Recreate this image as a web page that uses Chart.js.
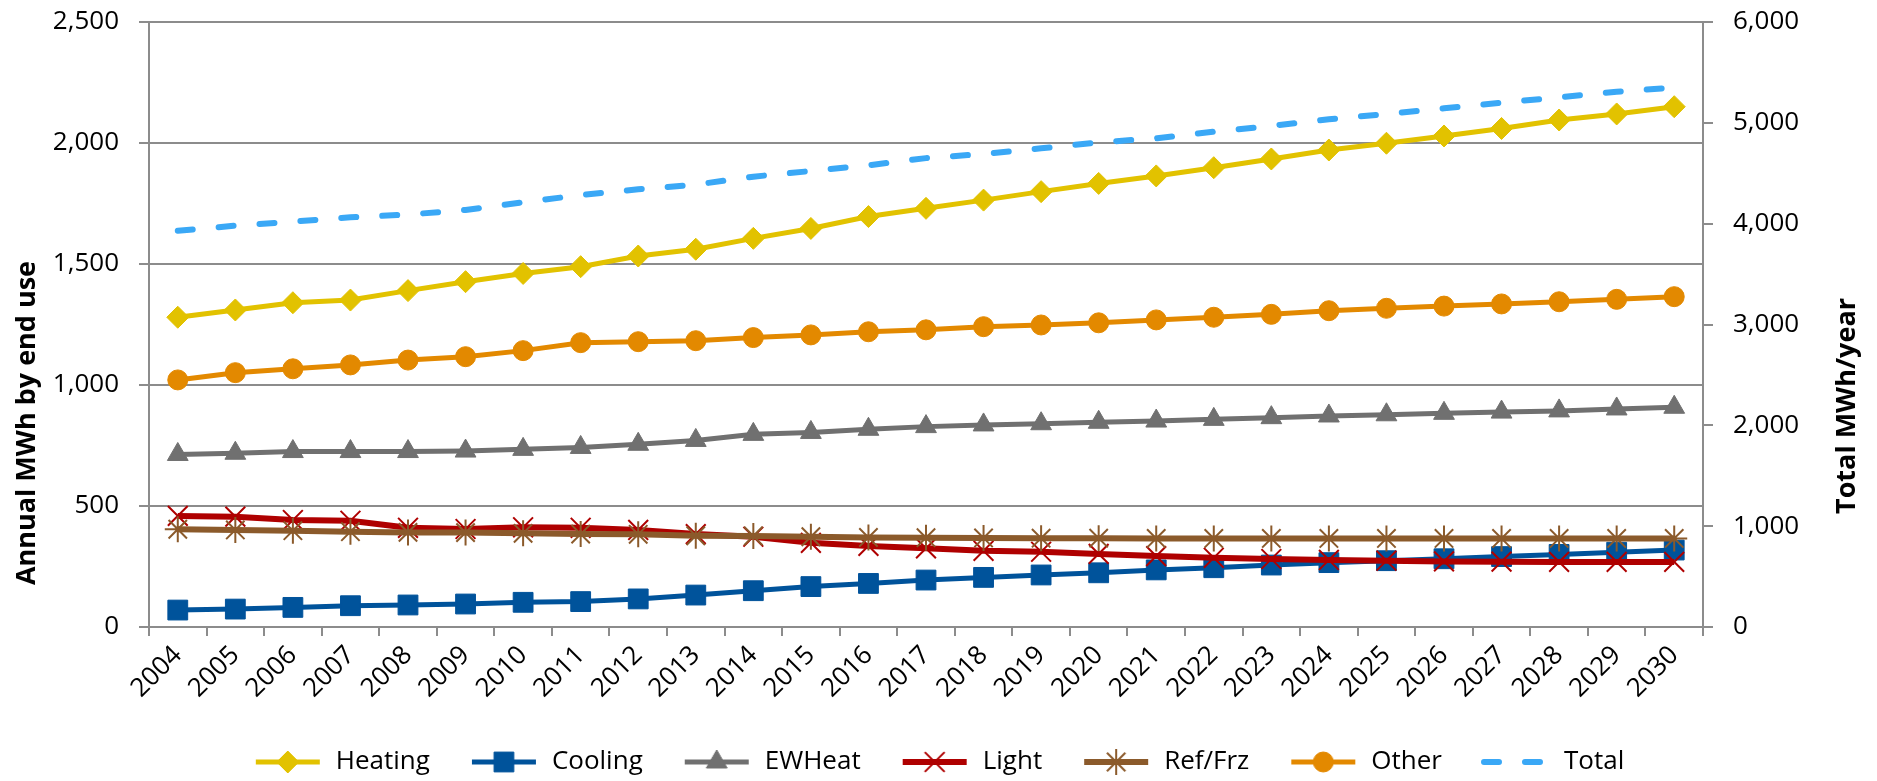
<!DOCTYPE html>
<html>
<head>
<meta charset="utf-8">
<script src="https://cdn.jsdelivr.net/npm/chart.js@4.4.1/dist/chart.umd.min.js"></script>
<style>
  html, body { margin: 0; padding: 0; background: #fff; }
  #wrap { width: 1877px; height: 781px; position: relative; }
</style>
</head>
<body>
<div id="wrap"><canvas id="chart"></canvas></div>
<script>
// data
const years = ['2004', '2005', '2006', '2007', '2008', '2009', '2010', '2011', '2012', '2013', '2014', '2015', '2016', '2017',
  '2018', '2019', '2020', '2021', '2022', '2023', '2024', '2025', '2026', '2027', '2028', '2029', '2030'];
const heating = [1280, 1310, 1340, 1351, 1390, 1427, 1461, 1489, 1533, 1561, 1606, 1647, 1696, 1730,
  1764, 1799, 1833, 1864, 1898, 1934, 1971, 1999, 2029, 2060, 2095, 2120, 2150];
const cooling = [70, 74, 81, 88, 91, 95, 102, 105, 116, 132, 150, 167, 180, 194,
  205, 215, 224, 236, 245, 256, 266, 274, 282, 291, 300, 309, 318];
const ewheat = [713, 718, 725, 725, 725, 727, 734, 742, 755, 771, 796, 804, 817, 828,
  835, 840, 846, 851, 858, 865, 872, 877, 883, 888, 893, 901, 908];
const light = [459, 456, 442, 439, 410, 405, 412, 410, 401, 384, 373, 348, 335, 325,
  315, 311, 302, 293, 286, 281, 277, 274, 271, 270, 269, 269, 269];
const refFrz = [404, 401, 398, 394, 391, 390, 387, 384, 383, 377, 376, 373, 370, 369,
  368, 367, 367, 366, 366, 366, 366, 366, 366, 366, 366, 366, 366];
const other = [1021, 1051, 1067, 1083, 1103, 1117, 1142, 1175, 1179, 1183, 1196, 1207, 1220, 1228,
  1241, 1248, 1257, 1269, 1280, 1292, 1307, 1317, 1326, 1335, 1344, 1354, 1365];
const total = [3930, 3980, 4020, 4063, 4090, 4136, 4212, 4284, 4341, 4387, 4466, 4522, 4579, 4650,
  4691, 4747, 4806, 4846, 4912, 4969, 5035, 5088, 5144, 5200, 5253, 5309, 5349];

const leftTicks = [0, 500, 1000, 1500, 2000, 2500];
const rightTicks = [0, 1000, 2000, 3000, 4000, 5000, 6000];
const leftTitle = 'Annual MWh by end use';
const rightTitle = 'Total MWh/year';

const FONT = '"Open Sans", "Noto Sans", sans-serif';
const AXIS = '#8c8c8c';
const PAD_BOTTOM = -4;

function series(label, data, color, style, radius, extra) {
  return Object.assign({
    label: label,
    data: data,
    borderColor: color,
    backgroundColor: color,
    borderWidth: 5,
    pointStyle: style,
    pointRadius: radius,
    pointBackgroundColor: color,
    pointBorderColor: color,
    pointBorderWidth: 1,
    tension: 0,
    yAxisID: 'y'
  }, extra || {});
}

const datasets = [
  series('Heating', heating, '#E2C200', 'rectRot', 11),
  series('Cooling', cooling, '#00539B', 'rect', 14),
  series('EWHeat', ewheat, '#707070', 'triangle', 12),
  series('Light', light, '#AF0000', 'crossRot', 14, { borderWidth: 6, pointBorderWidth: 2 }),
  series('Ref/Frz', refFrz, '#8B5A2B', 'star', 13, { borderWidth: 6, pointBorderWidth: 2 }),
  series('Other', other, '#E38900', 'circle', 10),
  series('Total', total, '#3AA8F6', false, 0, {
    borderWidth: 6, borderDash: [15, 26], borderCapStyle: 'round', yAxisID: 'y2'
  })
];
// later series drawn on top, like the original
datasets.forEach((d, i) => { d.order = 10 - i; });

function legendIcon(ds) {
  const cv = document.createElement('canvas');
  cv.width = 70; cv.height = 30;
  const c = cv.getContext('2d');
  c.strokeStyle = ds.borderColor;
  c.lineWidth = ds.borderWidth;
  c.lineCap = ds.borderCapStyle || 'butt';
  if (ds.borderDash) c.setLineDash(ds.borderDash);
  c.beginPath(); c.moveTo(3, 15); c.lineTo(67, 15); c.stroke();
  c.setLineDash([]);
  if (ds.pointStyle && ds.pointRadius > 0) {
    c.fillStyle = ds.pointBackgroundColor;
    c.strokeStyle = ds.pointBorderColor;
    c.lineWidth = ds.pointBorderWidth;
    Chart.helpers.drawPoint(c, { pointStyle: ds.pointStyle, radius: ds.pointRadius, rotation: 0,
      borderWidth: ds.pointBorderWidth }, 35, 15);
  }
  return cv;
}
const icons = datasets.map(legendIcon);

const axisTitles = {
  id: 'axisTitles',
  afterDraw(chart) {
    const c = chart.ctx;
    c.save();
    c.font = 'bold 27px ' + FONT;
    c.fillStyle = '#000';
    c.textAlign = 'center';
    c.textBaseline = 'middle';
    c.translate(27, 423);
    c.rotate(-Math.PI / 2);
    c.fillText(leftTitle, 0, 0);
    c.restore();
    c.save();
    c.font = 'bold 27px ' + FONT;
    c.fillStyle = '#000';
    c.textAlign = 'center';
    c.textBaseline = 'middle';
    c.translate(1847, 406);
    c.rotate(-Math.PI / 2);
    c.fillText(rightTitle, 0, 0);
    c.restore();
  }
};

function noVertPadding(s) {
  s.paddingTop = 0;
  s.paddingBottom = 0;
}

new Chart(document.getElementById('chart').getContext('2d'), {
  type: 'line',
  data: { labels: years, datasets: datasets },
  plugins: [axisTitles],
  options: {
    responsive: true,
    maintainAspectRatio: false,
    devicePixelRatio: 1,
    animation: false,
    layout: { padding: { top: 22, right: 0, bottom: PAD_BOTTOM, left: 0 } },
    plugins: {
      tooltip: { enabled: false },
      legend: {
        position: 'bottom',
        labels: {
          usePointStyle: true,
          pointStyleWidth: 70,
          padding: 39,
          color: '#000',
          font: { family: FONT, size: 26 },
          sort: (a, b) => a.datasetIndex - b.datasetIndex,
          generateLabels(chart) {
            const items = Chart.defaults.plugins.legend.labels.generateLabels(chart);
            items.forEach(it => { it.pointStyle = icons[it.datasetIndex]; });
            return items;
          }
        }
      }
    },
    scales: {
      x: {
        offset: true,
        grid: { offset: true, drawOnChartArea: false, color: AXIS, lineWidth: 2, tickLength: 9 },
        border: { color: AXIS, width: 2 },
        ticks: {
          autoSkip: false, minRotation: 45, maxRotation: 45, padding: 4,
          color: '#000', font: { family: FONT, size: 26 }
        },
        afterFit(s) { s.height = 781 - 627 - PAD_BOTTOM - s.chart.legend.height; }
      },
      y: {
        position: 'left',
        min: 0, max: 2500,
        afterBuildTicks(s) { s.ticks = leftTicks.map(v => ({ value: v })); },
        grid: { color: AXIS, lineWidth: 2, tickLength: 10 },
        border: { color: AXIS, width: 2 },
        ticks: {
          padding: 20, color: '#000', font: { family: FONT, size: 26 },
          callback: v => v.toLocaleString('en-US')
        },
        afterFit(s) { s.width = 149; noVertPadding(s); }
      },
      y2: {
        position: 'right',
        min: 0, max: 6000,
        afterBuildTicks(s) { s.ticks = rightTicks.map(v => ({ value: v })); },
        grid: { drawOnChartArea: false, color: AXIS, lineWidth: 2, tickLength: 10 },
        border: { color: AXIS, width: 2 },
        ticks: {
          padding: 20, color: '#000', font: { family: FONT, size: 26 },
          callback: v => v.toLocaleString('en-US')
        },
        afterFit(s) { s.width = 1877 - 1703; noVertPadding(s); }
      }
    }
  }
});
</script>
</body>
</html>
